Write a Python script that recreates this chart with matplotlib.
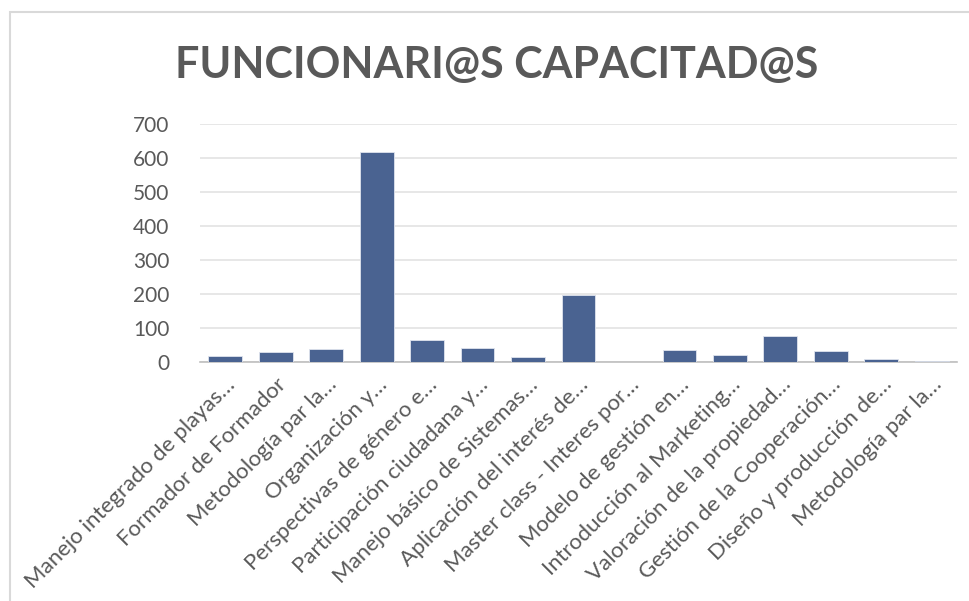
import matplotlib
matplotlib.use("Agg")
import matplotlib.pyplot as plt
from matplotlib.patches import Rectangle

# --- data ---
cursos = [
    "Manejo integrado de playas…",
    "Formador de Formador",
    "Metodología par la…",
    "Organización y…",
    "Perspectivas de género e…",
    "Participación ciudadana y…",
    "Manejo básico de Sistemas…",
    "Aplicación del interés de…",
    "Master class - Interes por…",
    "Modelo de gestión en…",
    "Introducción al Marketing…",
    "Valoración de la propiedad…",
    "Gestión de la Cooperación…",
    "Diseño y producción de…",
    "Metodología par la…",
]
capacitados = [17, 30, 37, 617, 66, 42, 16, 196, 0, 35, 20, 76, 32, 10, 4]
y_ticks = [0, 100, 200, 300, 400, 500, 600, 700]

plt.rcParams['font.family'] = ['Lato', 'DejaVu Sans']
text_color = '#595959'

fig = plt.figure(figsize=(9.69, 6.01), dpi=100)
fig.patch.set_facecolor('white')

# light frame around the chart area (Excel style)
fig.patches.append(Rectangle((10 / 969, -0.1), 1.0, 1 - 12 / 601 + 0.1,
                             transform=fig.transFigure, fill=False,
                             edgecolor='#d9d9d9', linewidth=1.5))

ax = fig.add_axes([200 / 969, 1 - 362 / 601, 757 / 969, 238 / 601])

x = range(len(cursos))
ax.bar(x, capacitados, width=0.67, color='#4a6391', edgecolor='#dfe4ee',
       linewidth=0.6, zorder=3)

ax.set_xlim(-0.5, len(cursos) - 0.5)
ax.set_ylim(0, 700)
ax.set_yticks(y_ticks)
ax.set_yticklabels([str(v) for v in y_ticks], fontsize=15, color=text_color)
ax.set_xticks(list(x))
ax.set_xticklabels(cursos, rotation=45, ha='right', va='top',
                   rotation_mode='anchor', fontsize=16, color=text_color)

ax.grid(axis='y', color='#e3e3e3', linewidth=1.2, zorder=0)
ax.tick_params(axis='both', length=0)
ax.tick_params(axis='y', pad=22)
ax.tick_params(axis='x', pad=9)
for side in ['top', 'right', 'left']:
    ax.spines[side].set_visible(False)
ax.spines['bottom'].set_color('#bfbfbf')
ax.spines['bottom'].set_linewidth(1.2)

fig.text(497 / 969, 1 - 65 / 601, 'FUNCIONARI@S CAPACITAD@S', ha='center',
         va='center', fontsize=31, fontweight='bold', color=text_color)

fig.savefig('out.png', dpi=100, facecolor='white')
